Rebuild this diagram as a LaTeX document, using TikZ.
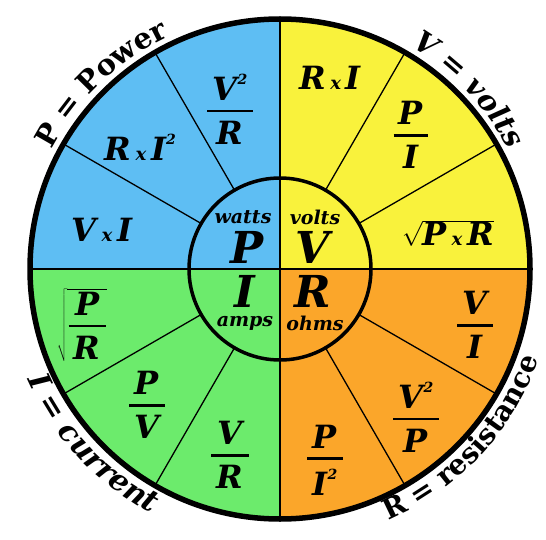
\documentclass[tikz,border=0pt]{standalone}
\usepackage{fontspec}
\setmainfont{DejaVu Serif}
\usetikzlibrary{decorations.text}
\definecolor{cblue}{HTML}{5EBEF3}
\definecolor{cyellow}{HTML}{F9F23C}
\definecolor{cgreen}{HTML}{6CEB6C}
\definecolor{corange}{HTML}{FBA62A}
\newcommand\sqtwo{\raisebox{0.5em}{\fontsize{14}{14}\selectfont 2}}
\newcommand\tms{\hspace{0.15em}{\fontsize{18}{18}\selectfont x}\hspace{0.15em}}
\newcommand\myfrac[2]{$\displaystyle{\mbox{\,#1\,}\above 2.8pt\mbox{\,#2\,}}$}
\tikzset{
  formula/.style={font=\bfseries\itshape\fontsize{32}{34}\selectfont, inner sep=0pt},
  quant/.style={font=\bfseries\itshape\fontsize{44}{46}\selectfont, inner sep=0pt},
  unitlbl/.style={font=\bfseries\itshape\fontsize{19}{20}\selectfont, inner sep=0pt},
  divider/.style={line width=1.3pt, draw=black},
  cross/.style={line width=2.5pt, draw=black},
}
\begin{document}
\begin{tikzpicture}[x=1pt,y=1pt]
\useasboundingbox (0,0) rectangle (546,539);
\begin{scope}[shift={(280,270)}]
  % quadrant fills
  \fill[cyellow] (0,0) -- (0:250pt) arc[start angle=0, end angle=90, radius=250pt] -- cycle;
  \fill[cblue] (0,0) -- (90:250pt) arc[start angle=90, end angle=180, radius=250pt] -- cycle;
  \fill[cgreen] (0,0) -- (180:250pt) arc[start angle=180, end angle=270, radius=250pt] -- cycle;
  \fill[corange] (0,0) -- (270:250pt) arc[start angle=270, end angle=360, radius=250pt] -- cycle;
  % dividers
  \foreach \a in {30,60,120,150,210,240,300,330}
    \draw[divider] (\a:91pt) -- (\a:250pt);
  % cross
  \draw[cross] (-250,0) -- (250,0);
  \draw[cross] (0,-250) -- (0,250);
  % circles
  \draw[line width=3.5pt] (0,0) circle[radius=91pt];
  \draw[line width=5.5pt] (0,0) circle[radius=250pt];
  % centre quantities
  \node[unitlbl] (watts) at (-37,52) {watts};
  \node[quant] (P) at (-33,22) {P};
  \node[unitlbl] (volts) at (35,52) {volts};
  \node[quant] (V) at (33,22) {V};
  \node[quant] (I) at (-35,-22) {I};
  \node[unitlbl] (amps) at (-35,-54) {amps};
  \node[quant] (R) at (33,-22) {R};
  \node[unitlbl] (ohms) at (35,-54) {ohms};
  % power
  \node[formula] (p1) at (-50,160) {\myfrac{V\sqtwo}{R}};
  \node[formula] (p2) at (-140,122) {R\tms I\sqtwo};
  \node[formula] (p3) at (-178,39) {V\tms I};
  % volts
  \node[formula] (v1) at (50,191) {R\tms I};
  \node[formula] (v2) at (131,134) {\myfrac{P}{I}};
  \node[formula] (v3) at (168,36) {$\sqrt{\mbox{P\tms R}}$};
  % current
  \node[formula] (i1) at (-198,-56) {$\sqrt{\displaystyle{\mbox{\,P\,}\above 2.8pt\mbox{\,R\,}}}$};
  \node[formula] (i2) at (-133,-136) {\myfrac{P}{V}};
  \node[formula] (i3) at (-50,-186) {\myfrac{V}{R}};
  % resistance
  \node[formula] (r1) at (195,-56) {\myfrac{V}{I}};
  \node[formula] (r2) at (136,-148) {\myfrac{V\sqtwo}{P}};
  \node[formula] (r3) at (45,-191) {\myfrac{P}{I\sqtwo}};
  % outer curved labels
  \path[decorate, decoration={text along path, text align=center,
     text={|\bfseries\fontsize{29}{30}\selectfont|P = Power}}]
     (160:258pt) arc[start angle=160, end angle=108, radius=258pt];
  \path[decorate, decoration={text along path, text align=center,
     text={|\bfseries\itshape\fontsize{29}{30}\selectfont|V = volts}}]
     (72:258pt) arc[start angle=72, end angle=15, radius=258pt];
  \path[decorate, decoration={text along path, text align=center,
     text={|\bfseries\itshape\fontsize{30}{30}\selectfont|I = current}}]
     (194:276pt) arc[start angle=194, end angle=252, radius=276pt];
  \path[decorate, decoration={text along path, text align=center,
     text={|\bfseries\fontsize{28}{30}\selectfont|R = resistance}}]
     (286:274pt) arc[start angle=286, end angle=348, radius=274pt];
\end{scope}
\end{tikzpicture}
\end{document}
